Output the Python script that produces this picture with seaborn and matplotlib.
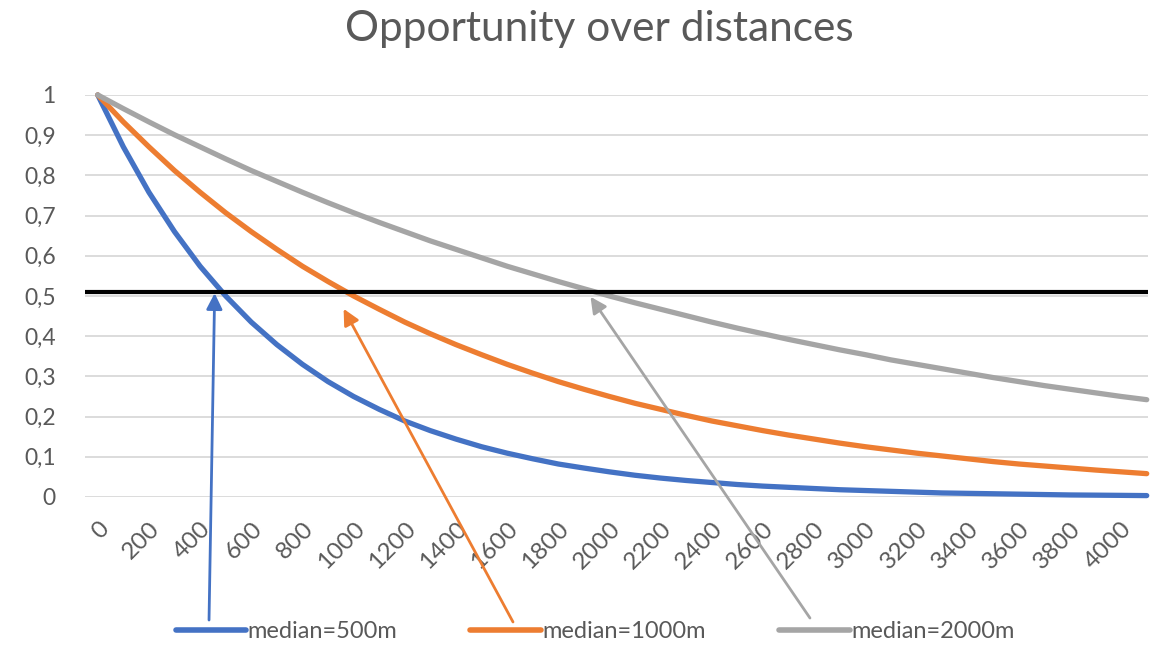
import matplotlib
matplotlib.use("Agg")
import matplotlib.pyplot as plt
import pandas as pd
import seaborn as sns

# distance every 100 m, labels every 200 m
distances = list(range(0, 4200, 100))

median_500 = [1.0, 0.871, 0.758, 0.660, 0.574, 0.500, 0.435, 0.379, 0.330, 0.287,
              0.250, 0.218, 0.189, 0.165, 0.144, 0.125, 0.109, 0.095, 0.082, 0.072,
              0.0625, 0.054, 0.047, 0.041, 0.036, 0.031, 0.027, 0.024, 0.021, 0.018,
              0.016, 0.014, 0.012, 0.010, 0.009, 0.008, 0.007, 0.006, 0.005, 0.0045,
              0.004, 0.0034]
median_1000 = [1.0, 0.933, 0.871, 0.812, 0.758, 0.707, 0.660, 0.616, 0.574, 0.536,
               0.500, 0.467, 0.435, 0.406, 0.379, 0.354, 0.330, 0.308, 0.287, 0.268,
               0.250, 0.233, 0.218, 0.203, 0.189, 0.177, 0.165, 0.154, 0.144, 0.134,
               0.125, 0.117, 0.109, 0.102, 0.095, 0.088, 0.082, 0.077, 0.072, 0.067,
               0.0625, 0.058]
median_2000 = [1.0, 0.966, 0.933, 0.901, 0.871, 0.841, 0.812, 0.785, 0.758, 0.732,
               0.707, 0.683, 0.660, 0.637, 0.616, 0.595, 0.574, 0.555, 0.536, 0.518,
               0.500, 0.483, 0.467, 0.451, 0.435, 0.420, 0.406, 0.392, 0.379, 0.366,
               0.354, 0.341, 0.330, 0.319, 0.308, 0.297, 0.287, 0.277, 0.268, 0.259,
               0.250, 0.242]

series_names = ["median=500m", "median=1000m", "median=2000m"]
series_colors = ["#4472C4", "#ED7D31", "#A5A5A5"]

x_ticks = list(range(0, 4001, 200))
y_ticks = [0, 0.1, 0.2, 0.3, 0.4, 0.5, 0.6, 0.7, 0.8, 0.9, 1.0]
y_labels = ["0", "0,1", "0,2", "0,3", "0,4", "0,5", "0,6", "0,7", "0,8", "0,9", "1"]

threshold = 0.51
# arrow tips (distance, value) near where each curve crosses the threshold
arrow_tips = [(457, 0.507), (961, 0.468), (1926, 0.498)]
# arrow tails, figure fraction
arrow_tails = [(0.1816, 0.0402), (0.4457, 0.0372), (0.7037, 0.0433)]

rows = []
for name, vals in zip(series_names, [median_500, median_1000, median_2000]):
    for d, v in zip(distances, vals):
        rows.append({"distance": d, "value": v, "series": name})
df = pd.DataFrame(rows)

sns.set_theme(style="white")
plt.rcParams["font.family"] = ["Lato", "DejaVu Sans"]
text_color = "#595959"

fig = plt.figure(figsize=(11.51, 6.46), dpi=100)
ax = fig.add_axes([0.0738, 0.2307, 0.9236, 0.6223])

for y in y_ticks:
    ax.axhline(y, color="#d9d9d9", lw=1.3, zorder=0)

sns.lineplot(
    data=df, x="distance", y="value", hue="series",
    hue_order=series_names, palette=dict(zip(series_names, series_colors)),
    lw=3.8, ax=ax, legend=True, solid_capstyle="round", clip_on=False, zorder=3,
)

ax.axhline(threshold, color="black", lw=3, zorder=4)

for (tx, ty), (sx, sy), c in zip(arrow_tips, arrow_tails, series_colors):
    ax.annotate(
        "", xy=(tx, ty), xycoords="data", xytext=(sx, sy), textcoords="figure fraction",
        arrowprops=dict(arrowstyle="-|>", color=c, lw=2, mutation_scale=24,
                        shrinkA=0, shrinkB=0),
        annotation_clip=False, zorder=5,
    )

ax.set_xlim(-50, 4105)
ax.set_ylim(0, 1)
ax.set_xticks(x_ticks)
ax.set_xticklabels([str(t) for t in x_ticks], rotation=45, ha="right", va="top",
                   rotation_mode="anchor", fontsize=17.5, color=text_color)
ax.set_yticks(y_ticks)
ax.set_yticklabels(y_labels, fontsize=16.5, color=text_color)
ax.tick_params(axis="y", length=0, pad=21)
ax.tick_params(axis="x", length=0, pad=15)
for s in ax.spines.values():
    s.set_visible(False)
ax.set_xlabel("")
ax.set_ylabel("")

handles, labels = ax.get_legend_handles_labels()
ax.get_legend().remove()
leg = fig.legend(
    handles, labels, loc="center", bbox_to_anchor=(0.517, 0.0217), ncol=3,
    frameon=False, fontsize=17, handlelength=3.0, handletextpad=0.05,
    columnspacing=3.1,
)
for t in leg.get_texts():
    t.set_color(text_color)
for h in leg.get_lines():
    h.set_linewidth(4)

fig.text(0.521, 0.955, "Opportunity over distances", ha="center", va="center",
         fontsize=30.5, color=text_color)

fig.savefig("out.png", dpi=100)
